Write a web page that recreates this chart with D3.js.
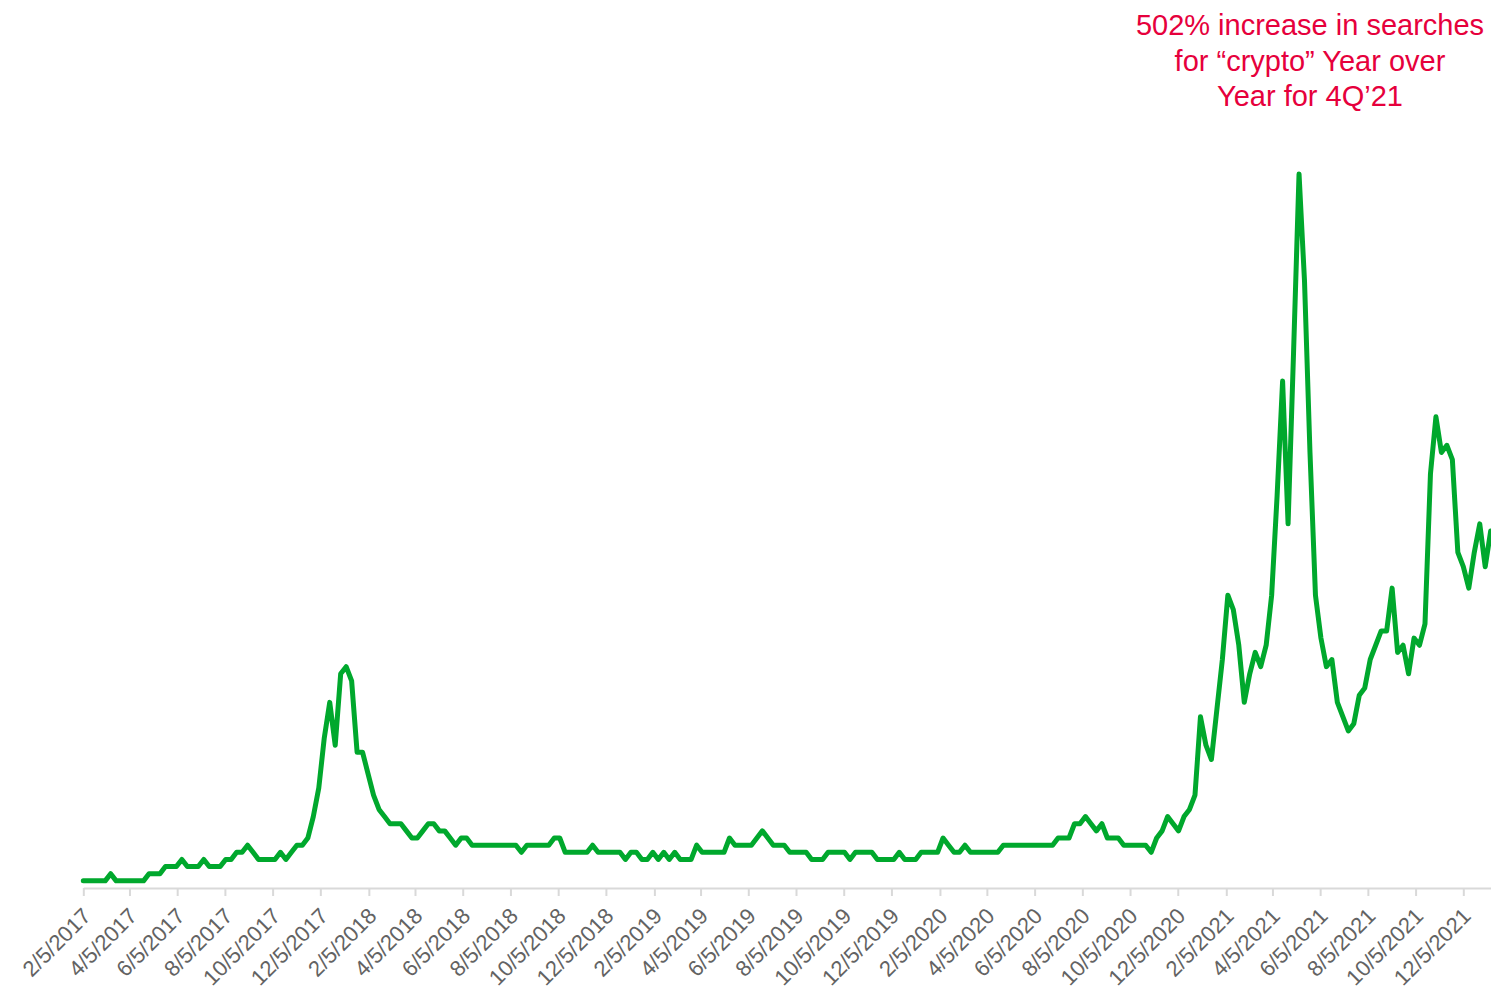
<!DOCTYPE html>
<html>
<head>
<meta charset="utf-8">
<script src="https://cdn.jsdelivr.net/npm/d3@7"></script>
<style>
  body { margin: 0; background: #fff; }
  svg { display: block; font-family: "Liberation Sans", Arial, sans-serif; }
</style>
</head>
<body>
<div class="chart"></div>
<script>
// weekly search interest for "crypto" (Google Trends, 0-100), first week 2/5/2017
const startWeek = "2/5/2017";
const v2017 = [1,1,1,1,1,2,1,1,1,1,1,1,2,2,2,3,3,3,4,3,3,3,4,3,3,3,4,4,5,5,6,5,4,4,4,4,5,4,5,6,6,7,10,14,21,26,20];
const v2018 = [30,31,29,19,19,16,13,11,10,9,9,9,8,7,7,8,9,9,8,8,7,6,7,7,6,6,6,6,6,6,6,6,6,5,6,6,6,6,6,7,7,5,5,5,5,5,6,5,5,5,5,5,4];
const v2019 = [5,5,4,4,5,4,5,4,5,4,4,4,6,5,5,5,5,5,7,6,6,6,6,7,8,7,6,6,6,5,5,5,5,4,4,4,5,5,5,5,4,5,5,5,5,4,4,4,4,5,4,4,4];
const v2020 = [5,5,5,5,7,6,5,5,6,5,5,5,5,5,5,6,6,6,6,6,6,6,6,6,6,7,7,7,9,9,10,9,8,9,7,7,7,6,6,6,6,6,5,7,8,10,9,8,10,11,13,24];
const v2021 = [20,18,25,32,41,39,34,26,30,33,31,34,41,55,71,51,75,100,85,61,41,35,31,32,26,24,22,23,27,28,32,34,36,36,42,33,34,30,35,34,37,58,66,61,62,60,47,45,42,47,51,45];
const v2022 = [50];
const tickLabels = ["2/5/2017","4/5/2017","6/5/2017","8/5/2017","10/5/2017","12/5/2017",
  "2/5/2018","4/5/2018","6/5/2018","8/5/2018","10/5/2018","12/5/2018",
  "2/5/2019","4/5/2019","6/5/2019","8/5/2019","10/5/2019","12/5/2019",
  "2/5/2020","4/5/2020","6/5/2020","8/5/2020","10/5/2020","12/5/2020",
  "2/5/2021","4/5/2021","6/5/2021","8/5/2021","10/5/2021","12/5/2021"];
const noteLines = ["502% increase in searches", "for \u201ccrypto\u201d Year over", "Year for 4Q\u201921"];

const width = 1491, height = 989;
const parse = d3.timeParse("%m/%d/%Y");
const values = [].concat(v2017, v2018, v2019, v2020, v2021, v2022);
const start = parse(startWeek);
const data = values.map((v, i) => ({ date: d3.timeWeek.offset(start, i), value: v }));

const svg = d3.select(".chart")
  .append("svg")
  .attr("width", width)
  .attr("height", height);

svg.append("rect").attr("width", width).attr("height", height).attr("fill", "#fff");

const x = d3.scaleTime()
  .domain(d3.extent(data, d => d.date))
  .range([83.3, 1490.7]);

const y = d3.scaleLinear()
  .domain([0, 100])
  .range([888, 174]);

// x axis
const xAxis = svg.append("g")
  .attr("transform", `translate(0,${y(0)})`)
  .call(d3.axisBottom(x)
    .tickValues(tickLabels.map(parse))
    .tickFormat((d, i) => tickLabels[i])
    .tickSize(8)
    .tickSizeOuter(0));

xAxis.select(".domain")
  .attr("stroke", "#d9d9d9")
  .attr("stroke-width", 2);
xAxis.selectAll(".tick line")
  .attr("stroke", "#d9d9d9")
  .attr("stroke-width", 2);
// rotated labels, kept just inside the bottom edge
xAxis.selectAll(".tick text")
  .attr("x", 0)
  .attr("y", 0)
  .attr("dy", "0.35em")
  .attr("transform", "translate(3,24) rotate(-45)")
  .attr("text-anchor", "end")
  .attr("fill", "#636363")
  .style("font-size", "22px")
  .style("font-family", "'Liberation Sans', Arial, sans-serif");

// the line
const line = d3.line()
  .x(d => x(d.date))
  .y(d => y(d.value));

svg.append("path")
  .datum(data)
  .attr("fill", "none")
  .attr("stroke", "#00a82d")
  .attr("stroke-width", 5)
  .attr("stroke-linejoin", "round")
  .attr("stroke-linecap", "round")
  .attr("d", line);

// annotation
svg.append("text")
  .attr("text-anchor", "middle")
  .attr("fill", "#e6003c")
  .style("font-size", "29px")
  .selectAll("tspan")
  .data(noteLines)
  .enter().append("tspan")
  .attr("x", 1310)
  .attr("y", (d, i) => 35 + i * 35.5)
  .text(d => d);
</script>
</body>
</html>
